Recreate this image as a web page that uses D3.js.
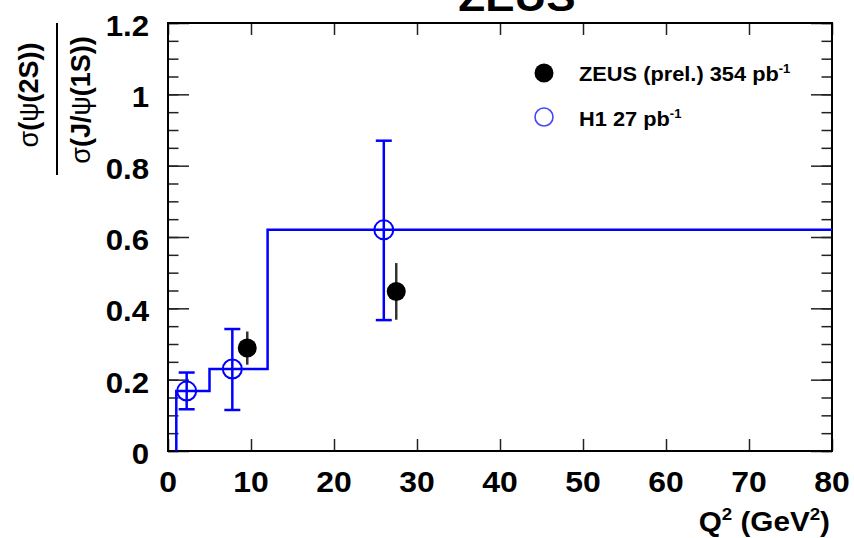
<!DOCTYPE html>
<html><head><meta charset="utf-8">
<script src="https://cdn.jsdelivr.net/npm/d3@7"></script>
<style>body{margin:0;background:#fff}</style>
</head><body><svg id="c" width="854" height="538"></svg>
<script>
// Tick values and labels
const xTicks = [0, 10, 20, 30, 40, 50, 60, 70, 80];
const yTicks = [0, 0.2, 0.4, 0.6, 0.8, 1, 1.2];
const yTickLabels = ["0", "0.2", "0.4", "0.6", "0.8", "1", "1.2"];
const yMinorStep = 0.05;

// H1 measurement (open circles)
const h1Q2 = [2.25, 7.75, 26.0];
const h1Ratio = [0.168, 0.23, 0.62];
const h1Low = [0.117, 0.115, 0.367];
const h1High = [0.22, 0.342, 0.87];

// ZEUS preliminary (filled circles)
const zeusQ2 = [9.55, 27.5];
const zeusRatio = [0.289, 0.447];
const zeusLow = [0.242, 0.368];
const zeusHigh = [0.335, 0.527];

// H1 binned result drawn as a step histogram
const stepEdges = [1, 5, 12, 80];
const stepRatio = [0.168, 0.23, 0.62];

const svg = d3.select("#c");
const L = 168, R = 832, T = 23, B = 451;
const x = d3.scaleLinear().domain([0, 80]).range([L, R]);
const y = d3.scaleLinear().domain([0, 1.2]).range([B, T]);
const FONT = "'Liberation Sans', Arial, Helvetica, sans-serif";

function label(x0, y0, anchor, size, sx) {
  return svg.append("text")
    .attr("transform", `translate(${x0},${y0}) scale(${sx},1)`)
    .attr("text-anchor", anchor)
    .attr("font-family", FONT)
    .attr("font-weight", "bold")
    .attr("font-size", size)
    .attr("fill", "#000");
}

// Frame ticks
const yMinor = d3.range(0, 1.2 + 1e-9, yMinorStep);
function ticks(axis, tx, ty) {
  const g = svg.append("g").attr("transform", `translate(${tx},${ty})`).call(axis);
  g.select(".domain").remove();
  g.selectAll("text").remove();
  g.selectAll("line").attr("stroke", "#222").attr("stroke-width", 1.5);
}
ticks(d3.axisTop(x).tickValues(xTicks).tickSize(12), 0, B);
ticks(d3.axisBottom(x).tickValues(xTicks).tickSize(12), 0, T);
ticks(d3.axisRight(y).tickValues(yTicks).tickSize(21), L, 0);
ticks(d3.axisRight(y).tickValues(yMinor).tickSize(10.5), L, 0);
ticks(d3.axisLeft(y).tickValues(yTicks).tickSize(21), R, 0);
ticks(d3.axisLeft(y).tickValues(yMinor).tickSize(10.5), R, 0);

svg.append("rect").attr("x", L).attr("y", T).attr("width", R - L).attr("height", B - T)
  .attr("fill", "none").attr("stroke", "#000").attr("stroke-width", 2);

// Tick labels
xTicks.forEach(v => label(x(v), 492, "middle", 29, 1.1).text(v));
yTicks.forEach((v, i) => label(149, y(v) + 13, "end", 30, 1.04).text(yTickLabels[i]));

// X axis title
const xt = label(830, 531, "end", 27, 1.1);
xt.append("tspan").text("Q");
xt.append("tspan").attr("font-size", 17).attr("dy", -11).text("2");
xt.append("tspan").attr("dy", 11).text(" (GeV");
xt.append("tspan").attr("font-size", 17).attr("dy", -11).text("2");
xt.append("tspan").attr("dy", 11).text(")");

// Y axis title: ratio as a fraction
const yt = svg.append("g").attr("transform", "translate(57,99) rotate(-90)")
  .attr("font-family", FONT).attr("font-size", 27).attr("font-weight", "bold");
const num = yt.append("text").attr("x", 4).attr("y", -19).attr("text-anchor", "middle");
num.append("tspan").attr("font-weight", "normal").text("σ");
num.append("tspan").text("(");
num.append("tspan").attr("font-weight", "normal").text("ψ");
num.append("tspan").text("(2S))");
yt.append("line").attr("x1", -76).attr("x2", 76).attr("y1", 0).attr("y2", 0)
  .attr("stroke", "#000").attr("stroke-width", 2);
const den = yt.append("text").attr("x", -1).attr("y", 33).attr("text-anchor", "middle");
den.append("tspan").attr("font-weight", "normal").text("σ");
den.append("tspan").text("(J/");
den.append("tspan").attr("font-weight", "normal").text("ψ");
den.append("tspan").text("(1S))");

// Title (partly above the canvas)
label(517, 11, "middle", 40, 1.1).text("ZEUS");

// Step histogram
const stepPts = [[stepEdges[0], 0]];
stepRatio.forEach((v, i) => { stepPts.push([stepEdges[i], v], [stepEdges[i + 1], v]); });
svg.append("path")
  .attr("d", d3.line().x(d => x(d[0])).y(d => y(d[1]))(stepPts))
  .attr("fill", "none").attr("stroke", "#0000ff").attr("stroke-width", 2.5);

// H1 points
const BLUE = "#0000ff";
h1Q2.forEach((q, i) => {
  const g = svg.append("g").attr("stroke", BLUE).attr("stroke-width", 2.5);
  g.append("line").attr("x1", x(q)).attr("x2", x(q)).attr("y1", y(h1Low[i])).attr("y2", y(h1High[i]));
  [h1Low[i], h1High[i]].forEach(v =>
    g.append("line").attr("x1", x(q) - 8).attr("x2", x(q) + 8).attr("y1", y(v)).attr("y2", y(v)));
  g.append("circle").attr("cx", x(q)).attr("cy", y(h1Ratio[i])).attr("r", 9.5)
    .attr("fill", "none").attr("stroke-width", 2);
});

// ZEUS points
zeusQ2.forEach((q, i) => {
  svg.append("line").attr("x1", x(q)).attr("x2", x(q))
    .attr("y1", y(zeusLow[i])).attr("y2", y(zeusHigh[i]))
    .attr("stroke", "#333").attr("stroke-width", 2.5);
  svg.append("circle").attr("cx", x(q)).attr("cy", y(zeusRatio[i])).attr("r", 9.5).attr("fill", "#000");
});

// Legend
svg.append("circle").attr("cx", 544).attr("cy", 73).attr("r", 9.5).attr("fill", "#000");
svg.append("circle").attr("cx", 544).attr("cy", 117).attr("r", 9).attr("fill", "none")
  .attr("stroke", "#4444ff").attr("stroke-width", 1.6);
const l1 = label(579, 81, "start", 20, 1.09);
l1.append("tspan").text("ZEUS (prel.) 354 pb");
l1.append("tspan").attr("font-size", 12).attr("dy", -8).text("-1");
const l2 = label(579, 126, "start", 20, 1.09);
l2.append("tspan").text("H1 27 pb");
l2.append("tspan").attr("font-size", 12).attr("dy", -8).text("-1");
</script>
</body></html>
